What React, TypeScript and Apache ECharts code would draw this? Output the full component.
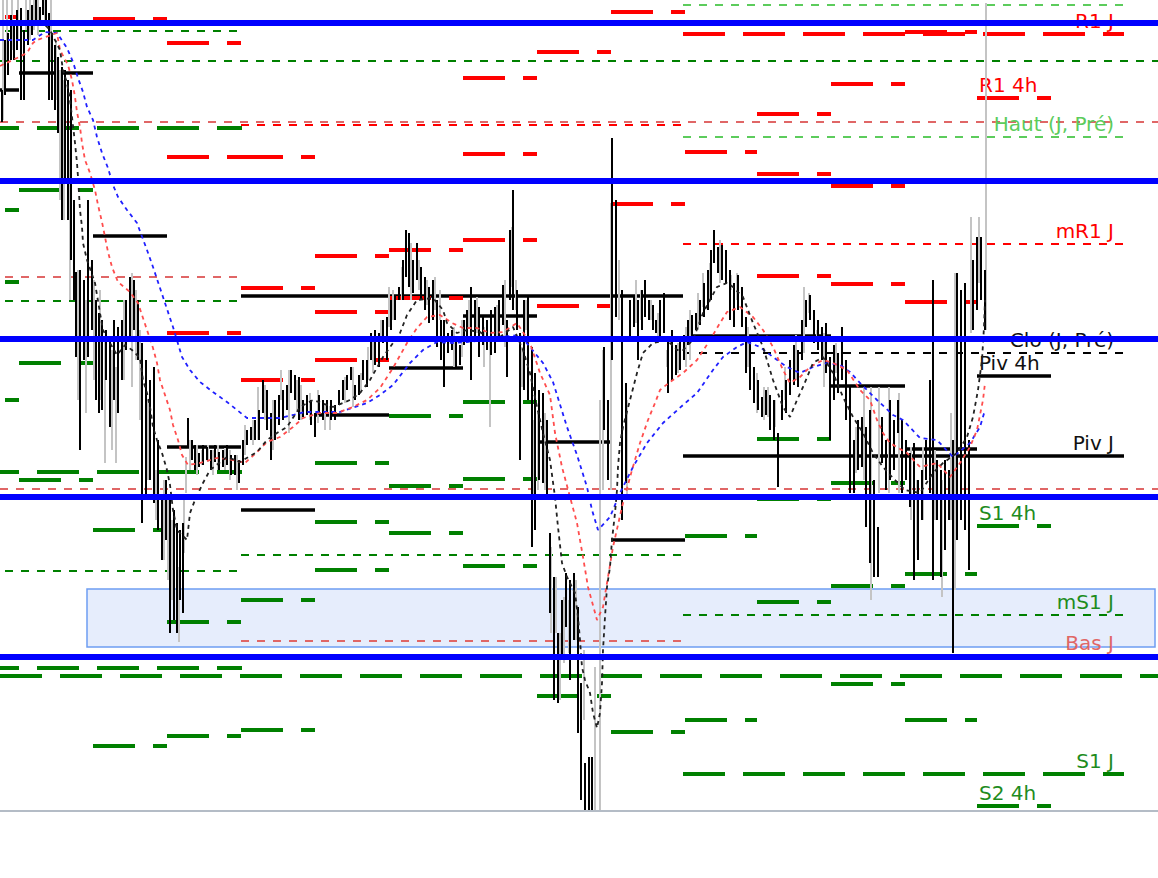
import React, { useEffect, useRef } from "react";
import * as echarts from "echarts";

// ---- axes (time units along x, price points along y) ----
const X_MIN = 0;
const X_MAX = 1158;
const Y_MIN = 189;
const Y_MAX = 1000;

// ---- 4h pivot periods ----
const PERIOD_START = [-55, 19, 93, 167, 241, 315, 389, 463, 537, 611, 685, 757, 831, 905, 977];
const PERIOD_END = [19, 93, 167, 241, 315, 389, 463, 537, 611, 685, 757, 831, 905, 977, 1051];
const R3 = [null, null, null, 957, 843, 744, null, 922, 948, null, null, 886, 916, 968, null];
const R2 = [null, null, null, 843, 712, 688, 750, 846, null, 988, null, 826, 814, null, null];
const R1 = [983, null, 981, 667, 620, 640, 702, 760, 694, 796, 848, 724, 716, 698, 902];
const PIV = [910, 927, 764, 553, 490, 585, 632, 684, 558, 460, 664, 664, 614, 551, 624];
const S1 = [790, 810, 470, 378, 400, 537, 584, 598, null, 268, 464, 561, 517, 426, 474];
const S2 = [718, 637, 254, 264, 270, 478, 514, 521, 304, null, 280, 501, 414, 280, 194];
const S3 = [600, 520, null, null, null, 430, 467, 434, null, null, null, 398, 316, null, null];

// ---- daily levels: [day index, level] ----
const DAY_START = [-203, 241, 683];
const DAY_END = [242, 683, 1124];
const DAILY_LONG_RED = [[2, 966]];
const DAILY_LONG_GREEN = [[0, 872], [0, 528], [0, 332], [2, 226]];
const DAILY_PIVOT = [[1, 704], [2, 544]];
const DAILY_THIN_RED = [[1, 875], [2, 756]];
const DAILY_THIN_GREEN = [[0, 969], [0, 699], [0, 429], [1, 445], [2, 385]];
const DAILY_THIN_LIGHTRED = [[0, 723], [1, 359], [2, 344]];
const DAILY_THIN_LIGHTGREEN = [[2, 995], [2, 863]];
const DAILY_THIN_BLACK = [[2, 647]];

// ---- wider levels spanning the whole view ----
const WEEKLY_LONG_GREEN = [324];
const WEEKLY_THIN_GREEN = [939];
const WEEKLY_THIN_LIGHTRED = [878, 511];
const ROUND_LEVELS = [977, 819, 661, 503, 343];

// ---- highlighted zone ----
const ZONE_TIME = [87, 1155];
const ZONE_PRICE = [353, 411];

// ---- price bars: [time, high, low] ----
const BLACK_BARS = [
  [2,910,878],[5,960,905],[8,967,925],[11,985,940],[14,980,940],[17,990,950],[21,992,900],[24,970,900],[28,990,955],[32,995,965],
  [36,1000,975],[40,993,980],[43,1000,985],[46,1000,980],[49,987,900],[52,967,900],[55,955,890],[58,943,867],[62,933,780],[65,930,820],
  [68,920,780],[71,910,740],[74,800,700],[76,728,643],[80,730,550],[84,720,640],[88,800,643],[92,740,670],[96,700,600],[99,687,587],
  [102,680,590],[106,670,620],[110,660,573],[114,680,600],[118,673,587],[122,680,620],[126,700,650],[130,723,660],[134,720,670],[138,700,640],
  [142,657,477],[146,640,500],[150,620,520],[154,633,497],[158,560,470],[162,500,440],[166,520,460],[170,500,367],[174,490,380],[177,477,367],
  [180,470,400],[183,477,387],[188,582,553],[192,560,540],[195,555,530],[199,547,533],[203,555,535],[207,553,540],[211,550,530],[215,555,538],
  [219,548,530],[223,550,533],[227,555,535],[231,545,525],[235,545,525],[239,540,517],[243,560,535],[247,570,555],[251,573,560],[255,580,560],
  [259,590,560],[263,620,587],[267,610,570],[271,587,540],[275,600,560],[279,605,575],[283,610,580],[287,615,590],[291,630,607],[295,625,600],
  [299,623,580],[303,600,583],[307,605,585],[311,600,575],[315,587,563],[319,605,585],[323,600,580],[327,600,585],[331,600,580],[335,595,580],
  [339,610,595],[343,620,600],[347,625,610],[351,633,620],[355,615,600],[359,625,605],[363,640,620],[367,640,613],[371,667,640],[375,670,635],
  [379,667,633],[383,680,657],[387,683,640],[391,700,670],[395,705,680],[399,713,700],[403,740,700],[406,770,723],[409,767,713],[413,740,707],
  [417,757,720],[421,733,700],[425,723,690],[429,713,677],[433,720,680],[437,700,653],[441,680,640],[444,680,613],[448,667,647],[452,670,650],
  [456,660,633],[460,655,635],[464,680,655],[467,690,663],[471,713,620],[475,700,660],[479,693,643],[483,685,655],[487,680,650],[491,690,645],
  [495,693,647],[499,700,660],[503,715,675],[507,680,623],[510,770,700],[513,810,690],[517,710,670],[520,667,540],[524,700,610],[528,703,600],
  [532,653,453],[535,627,470],[539,610,520],[543,607,517],[547,580,500],[550,467,387],[554,423,300],[558,367,297],[562,400,340],[566,427,373],
  [570,420,320],[574,427,360],[578,393,267],[581,317,200],[585,237,190],[589,243,190],[592,243,190],[604,653,570],[608,600,520],[612,862,640],
  [616,800,683],[622,710,480],[626,617,517],[630,700,660],[634,703,673],[638,700,640],[642,710,670],[645,720,683],[649,700,680],[653,695,670],
  [656,680,667],[660,700,660],[664,707,667],[668,660,607],[672,670,620],[676,655,625],[680,660,630],[684,665,640],[688,680,655],[692,685,665],
  [696,687,670],[700,700,675],[704,717,683],[708,730,690],[711,750,700],[714,770,737],[718,753,727],[722,755,720],[726,750,717],[730,730,680],
  [734,717,673],[738,725,690],[742,713,673],[746,683,627],[750,660,610],[754,633,597],[758,620,590],[762,603,583],[766,610,585],[770,605,570],
  [774,600,560],[778,567,513],[782,610,580],[786,620,587],[790,640,605],[794,655,615],[798,650,613],[802,680,640],[806,700,673],[810,705,680],
  [814,690,657],[818,680,650],[822,673,640],[826,677,627],[830,643,560],[834,655,600],[838,647,607],[842,673,620],[846,640,580],[850,613,507],
  [854,560,507],[858,580,530],[862,583,533],[866,573,473],[870,590,437],[874,520,423],[878,473,423],[882,583,537],[886,560,510],[890,600,520],
  [894,580,530],[898,600,567],[902,580,507],[906,560,520],[910,547,493],[914,557,420],[918,520,440],[922,530,480],[926,560,520],[930,620,507],
  [933,720,420],[937,540,480],[941,530,423],[945,540,450],[949,530,480],[953,560,347],[957,727,460],[961,710,480],[965,717,470],[969,560,430],
  [973,740,670],[977,763,690],[981,763,700],[985,730,670],
];

const GRAY_BARS = [
  [3,1000,880],[7,1000,940],[12,1000,950],[18,1000,960],[26,1000,970],[30,1000,960],[34,1000,970],[38,1000,965],[45,1000,975],[51,1000,940],
  [56,960,900],[60,930,800],[64,920,780],[70,850,700],[78,730,600],[86,700,587],[94,720,620],[100,710,600],[105,660,537],[112,650,550],
  [116,633,537],[124,700,620],[132,727,613],[136,710,640],[140,670,580],[148,600,520],[156,530,480],[164,520,440],[168,500,420],[172,480,400],
  [179,433,358],[184,500,447],[186,543,507],[190,560,530],[197,555,525],[202,550,535],[208,555,538],[213,550,525],[218,555,530],[225,552,530],
  [230,550,520],[237,545,510],[245,575,545],[253,580,555],[258,613,560],[265,615,580],[273,600,550],[281,630,600],[289,630,567],[297,620,590],
  [301,615,580],[310,607,580],[318,610,577],[325,595,570],[330,594,570],[345,623,597],[353,633,593],[361,627,607],[368,653,620],[373,660,627],
  [381,680,660],[389,713,673],[393,710,680],[402,733,700],[411,757,700],[419,740,710],[427,720,695],[435,723,690],[440,710,680],[454,673,633],
  [462,680,643],[469,700,673],[477,703,667],[484,673,633],[490,660,573],[497,695,660],[505,720,653],[512,773,713],[516,720,690],[522,653,613],
  [526,700,670],[534,580,503],[538,587,510],[545,587,510],[551,453,367],[556,423,367],[560,367,300],[564,403,337],[569,400,347],[576,420,360],
  [584,350,280],[595,333,190],[600,600,190],[603,650,510],[611,797,510],[619,740,680],[627,600,500],[636,720,677],[641,710,680],[651,700,680],
  [658,687,660],[667,650,633],[678,657,627],[686,673,633],[690,690,640],[698,707,670],[703,727,693],[710,737,700],[720,760,717],[731,725,710],
  [737,727,700],[748,673,633],[757,627,587],[764,613,580],[768,613,583],[775,600,573],[785,633,600],[796,665,620],[804,713,647],[809,707,687],
  [817,670,660],[824,667,613],[836,657,627],[856,573,527],[864,613,520],[871,613,400],[879,613,507],[889,613,507],[899,607,507],[911,553,480],
  [917,520,450],[923,553,480],[935,550,480],[942,520,403],[951,587,480],[955,727,410],[971,783,667],[979,783,717],[986,997,670],
];

// ---- moving averages: [time, value] ----
const MA_SLOW = [
  [0,960],[20,960],[33,960],[45,968],[57,967],[67,952],[73,938],[78,922],[83,908],[87,893],[93,880],[97,863],[102,847],[108,832],[113,815],
  [118,803],[127,790],[137,777],[147,750],[153,733],[163,703],[173,673],[182,643],[190,630],[200,618],[213,608],[227,598],[237,590],[247,582],
  [263,582],[280,582],[293,585],[305,588],[320,588],[340,588],[367,597],[380,605],[393,615],[410,637],[423,650],[437,658],[453,657],[467,658],
  [487,660],[500,663],[520,665],[530,653],[543,637],[553,618],[567,573],[577,545],[587,513],[592,490],[598,470],[610,483],[620,507],[633,533],
  [647,557],[663,577],[683,595],[697,607],[713,630],[723,643],[737,653],[747,658],[760,653],[773,643],[787,633],[800,627],[813,633],[827,637],
  [840,635],[850,628],[860,617],[877,600],[893,585],[903,580],[920,562],[937,560],[953,543],[970,557],[980,573],[985,590],
];
const MA_MID = [
  [0,934],[17,942],[27,947],[33,957],[37,960],[57,967],[60,950],[68,935],[72,920],[75,903],[77,888],[80,873],[82,857],[85,840],[90,827],
  [95,810],[98,795],[102,778],[105,763],[108,748],[112,733],[118,718],[130,708],[138,697],[143,682],[148,667],[153,652],[157,637],[160,620],
  [165,605],[170,590],[173,575],[178,560],[182,545],[188,535],[200,537],[217,542],[233,540],[245,537],[257,548],[267,558],[280,563],[293,573],
  [303,582],[320,587],[337,587],[353,593],[367,600],[380,612],[393,632],[407,657],[417,672],[427,683],[440,685],[452,677],[463,672],[477,672],
  [490,667],[503,668],[517,677],[530,657],[540,627],[550,605],[555,567],[562,533],[570,503],[577,477],[583,443],[588,413],[597,380],[603,393],
  [608,423],[613,453],[622,493],[632,530],[640,557],[648,580],[655,597],[660,610],[670,618],[683,627],[697,640],[710,660],[720,677],[727,688],
  [740,693],[753,683],[763,670],[773,653],[783,630],[790,617],[800,623],[810,633],[823,640],[833,637],[847,630],[860,610],[870,600],[877,580],
  [883,567],[890,557],[907,547],[920,533],[937,537],[950,523],[960,537],[970,553],[977,570],[983,600],[985,617],
];
const MA_FAST = [
  [40,980],[50,970],[60,950],[63,930],[67,917],[70,900],[72,883],[75,857],[77,837],[78,823],[80,790],[82,773],[83,757],[87,740],[95,717],
  [100,687],[103,670],[110,657],[117,645],[125,655],[132,650],[140,642],[143,620],[147,607],[150,593],[153,573],[157,560],[162,547],[167,530],
  [170,515],[173,490],[177,470],[187,460],[190,487],[195,500],[203,517],[210,530],[227,543],[240,538],[257,548],[267,560],[277,567],[287,573],
  [300,593],[313,600],[333,593],[350,600],[360,607],[370,620],[383,643],[393,657],[400,667],[407,685],[417,700],[433,702],[443,690],[447,677],
  [457,667],[467,670],[480,668],[490,660],[500,663],[513,673],[523,650],[530,627],[537,593],[543,567],[550,540],[555,503],[558,473],[562,437],
  [567,423],[575,407],[578,383],[580,360],[582,333],[585,320],[590,307],[593,287],[597,272],[600,287],[602,317],[603,350],[605,383],[607,413],
  [610,433],[612,460],[615,487],[617,510],[618,533],[620,557],[623,573],[630,600],[637,627],[643,647],[653,657],[667,660],[677,650],[683,650],
  [693,660],[703,687],[710,700],[717,713],[727,717],[733,713],[743,703],[753,677],[763,653],[773,620],[783,593],[790,583],[797,600],[803,613],
  [813,637],[823,643],[833,627],[843,603],[853,583],[863,567],[873,547],[883,533],[893,522],[905,510],[920,507],[933,527],[943,537],[957,547],
  [967,563],[973,583],[978,610],[982,640],[984,673],[985,700],
];

// ---- label texts ----
const LABELS_DAILY = ["R1 J", "Haut (J, Pré)", "mR1 J", "Clo (J, Pré)", "Piv J", "mS1 J", "Bas J", "S1 J"];
const LABELS_DAILY_LEVEL = [966, 863, 756, 647, 544, 385, 344, 226];
const LABELS_4H = ["R1 4h", "Piv 4h", "S1 4h", "S2 4h"];

const RED = "#ff0000";
const GREEN = "#008000";
const LIGHT_RED = "#e06666";
const LIGHT_GREEN = "#5ccc5c";
const LONG_DASH = [42, 18];
const SHORT_DASH = [8, 8];

const periodSegs = (lv) =>
  lv.flatMap((v, i) => (v == null ? [] : [[PERIOD_START[i], PERIOD_END[i], v]]));
const daySegs = (lv) => lv.map(([d, v]) => [DAY_START[d], DAY_END[d], v]);
const spanSegs = (lv) => lv.map((v) => [X_MIN, X_MAX, v]);

function segSeries(data, color, width, dash, z) {
  return {
    type: "custom",
    z,
    silent: true,
    data,
    encode: { x: [0, 1], y: 2 },
    renderItem: (_p, api) => {
      const a = api.coord([api.value(0), api.value(2)]);
      const b = api.coord([api.value(1), api.value(2)]);
      return {
        type: "line",
        shape: { x1: a[0], y1: a[1], x2: b[0], y2: b[1] },
        style: { stroke: color, lineWidth: width, lineDash: dash || null, fill: null },
      };
    },
  };
}

function barSeries(data, color, width, z) {
  return {
    type: "custom",
    z,
    silent: true,
    data,
    encode: { x: 0, y: [1, 2] },
    renderItem: (_p, api) => {
      const a = api.coord([api.value(0), api.value(1)]);
      const b = api.coord([api.value(0), api.value(2)]);
      return {
        type: "line",
        shape: { x1: a[0], y1: a[1], x2: b[0], y2: b[1] },
        style: { stroke: color, lineWidth: width },
      };
    },
  };
}

function maSeries(data, color, width) {
  return {
    type: "line",
    z: 5,
    silent: true,
    data,
    symbol: "none",
    showSymbol: false,
    lineStyle: { color, width, type: [4, 4] },
  };
}

export default function App() {
  const ref = useRef(null);

  useEffect(() => {
    const chart = echarts.init(ref.current, null, { renderer: "svg" });

    const dailyColors = [RED, LIGHT_GREEN, RED, "#111111", "#111111", "#1e8c1e", LIGHT_RED, "#1e8c1e"];
    const hLevels = [R1[14], PIV[14], S1[14], S2[14]];
    const hColors = [RED, "#111111", "#1e8c1e", "#1e8c1e"];
    // [time anchor, level, label index, align (0 = right, 1 = left)]
    const labelItems = [
      ...LABELS_DAILY.map((_t, i) => [DAY_END[2], LABELS_DAILY_LEVEL[i], i, 0]),
      ...LABELS_4H.map((_t, i) => [PERIOD_START[14], hLevels[i], i, 1]),
    ];

    chart.setOption({
      animation: false,
      backgroundColor: "#ffffff",
      grid: { left: 0, right: 0, top: 0, bottom: 67, containLabel: false },
      xAxis: {
        type: "value",
        min: X_MIN,
        max: X_MAX,
        axisLine: { show: true, onZero: false, lineStyle: { color: "#b4bcc6", width: 2 } },
        axisTick: { show: false },
        axisLabel: { show: false },
        splitLine: { show: false },
      },
      yAxis: {
        type: "value",
        min: Y_MIN,
        max: Y_MAX,
        axisLine: { show: false },
        axisTick: { show: false },
        axisLabel: { show: false },
        splitLine: { show: false },
      },
      series: [
        // zone
        {
          type: "custom",
          z: 1,
          silent: true,
          data: [[ZONE_TIME[0], ZONE_TIME[1], ZONE_PRICE[0], ZONE_PRICE[1]]],
          encode: { x: [0, 1], y: [2, 3] },
          renderItem: (_p, api) => {
            const a = api.coord([api.value(0), api.value(3)]);
            const b = api.coord([api.value(1), api.value(2)]);
            return {
              type: "rect",
              shape: { x: a[0], y: a[1], width: b[0] - a[0], height: b[1] - a[1] },
              style: { fill: "#e6edfc", stroke: "#6e9df2", lineWidth: 1.5 },
            };
          },
        },
        // wide levels
        segSeries(spanSegs(WEEKLY_THIN_GREEN), GREEN, 2, SHORT_DASH, 2),
        segSeries(spanSegs(WEEKLY_THIN_LIGHTRED), LIGHT_RED, 2, SHORT_DASH, 2),
        segSeries(spanSegs(WEEKLY_LONG_GREEN), GREEN, 4, LONG_DASH, 2),
        // daily levels
        segSeries(daySegs(DAILY_THIN_GREEN), GREEN, 2, SHORT_DASH, 2),
        segSeries(daySegs(DAILY_THIN_RED), RED, 2, SHORT_DASH, 2),
        segSeries(daySegs(DAILY_THIN_LIGHTRED), LIGHT_RED, 2, SHORT_DASH, 2),
        segSeries(daySegs(DAILY_THIN_LIGHTGREEN), LIGHT_GREEN, 2, SHORT_DASH, 2),
        segSeries(daySegs(DAILY_THIN_BLACK), "#000000", 2, SHORT_DASH, 2),
        segSeries(daySegs(DAILY_PIVOT), "#000000", 3.5, null, 2),
        segSeries(daySegs(DAILY_LONG_RED), RED, 4, LONG_DASH, 2),
        segSeries(daySegs(DAILY_LONG_GREEN), GREEN, 4, LONG_DASH, 2),
        // 4h pivots
        segSeries(periodSegs(R3), RED, 4, LONG_DASH, 2),
        segSeries(periodSegs(R2), RED, 4, LONG_DASH, 2),
        segSeries(periodSegs(R1), RED, 4, LONG_DASH, 2),
        segSeries(periodSegs(PIV), "#000000", 3.5, null, 2),
        segSeries(periodSegs(S1), GREEN, 4, LONG_DASH, 2),
        segSeries(periodSegs(S2), GREEN, 4, LONG_DASH, 2),
        segSeries(periodSegs(S3), GREEN, 4, LONG_DASH, 2),
        // level labels
        {
          type: "custom",
          z: 2,
          silent: true,
          data: labelItems,
          encode: { x: 0, y: 1 },
          renderItem: (_p, api) => {
            const pt = api.coord([api.value(0), api.value(1)]);
            const idx = api.value(2);
            const left = api.value(3) === 1;
            const text = left ? LABELS_4H[idx] : LABELS_DAILY[idx];
            const fill = left ? hColors[idx] : dailyColors[idx];
            const align = left ? "left" : "right";
            return {
              type: "text",
              x: pt[0] + (left ? 2 : -10),
              y: pt[1] - 3,
              style: {
                text,
                fill,
                font: "20px 'DejaVu Sans'",
                align,
                textAlign: align,
                verticalAlign: "bottom",
                textVerticalAlign: "bottom",
              },
            };
          },
        },
        // price bars
        barSeries(GRAY_BARS, "#c4c4c4", 2, 3),
        barSeries(BLACK_BARS, "#000000", 2, 4),
        // moving averages
        maSeries(MA_SLOW, "#2020ff", 1.8),
        maSeries(MA_MID, "#ff4d4d", 1.8),
        maSeries(MA_FAST, "#222222", 1.8),
        // round-number levels
        segSeries(spanSegs(ROUND_LEVELS), "#0000ff", 6, null, 6),
      ],
    });

    return () => chart.dispose();
  }, []);

  return (
    <div
      ref={ref}
      style={{ position: "absolute", left: 0, top: 0, width: 1158, height: 878, background: "#ffffff" }}
    />
  );
}
